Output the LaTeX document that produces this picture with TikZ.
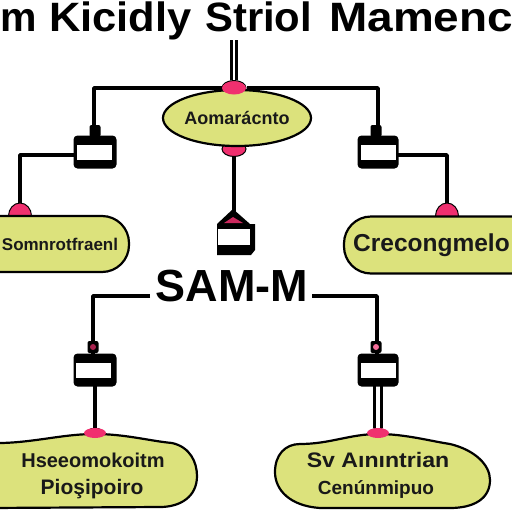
\documentclass[tikz,border=0pt]{standalone}
\usepackage{fontspec}
\setmainfont{Liberation Sans}
\usetikzlibrary{shapes.geometric}
\definecolor{lime}{HTML}{DCE27C}
\definecolor{rose}{HTML}{F0306F}
\tikzset{
  x=1pt,y=-1pt,
  wire/.style={line width=3.6pt,black,line join=round},
  twin/.style={line width=3pt,black,double=white,double distance=2pt},
  twinwide/.style={line width=3.4pt,black,double=white,double distance=4pt},
  outline/.style={line width=2.2pt,draw=black,fill=lime},
  dot/.style={ellipse,fill=rose,draw=black,line width=1pt,minimum width=24pt,minimum height=15pt,inner sep=0pt},
  dome/.style={dot,minimum width=23pt,minimum height=26pt},
  case/.style={fill=black,rounded corners=4pt,minimum width=43pt,minimum height=33pt,inner sep=0pt},
  win/.style={fill=white,minimum width=35pt,minimum height=15pt,inner sep=0pt},
  nub/.style={fill=black,rounded corners=2pt,minimum width=11pt,minimum height=12pt,inner sep=0pt},
  head/.style={font=\bfseries\fontsize{41}{41}\selectfont,inner sep=0pt,anchor=base west},
  lab/.style={font=\bfseries\fontsize{18}{18}\selectfont,inner sep=0pt,text=black!90},
  labm/.style={font=\bfseries\fontsize{20}{20}\selectfont,inner sep=0pt,text=black!90},
}
\begin{document}
\begin{tikzpicture}
\useasboundingbox (0,0) rectangle (512,512);
\clip (0,0) rectangle (512,512);
\fill[white] (0,0) rectangle (512,512);

% title
\node[head] (t1) at (0,31) {m};
\node[head,xscale=1.06] (t2) at (49,31) {Kicidly};
\node[head,xscale=1.02] (t3) at (205,31) {Striol};
\node[head,xscale=1.12] (t4) at (329,31) {Mamenc};

% anchors
\coordinate (stem) at (234,40);
\coordinate (busL) at (94,88);
\coordinate (busR) at (378,88);
\coordinate (elbowL) at (20,155);
\coordinate (elbowR) at (447,155);
\coordinate (lowL) at (93,296);
\coordinate (lowR) at (377,296);

% pink joints (drawn first so shapes cover their lower or upper part)
\node[dot] (pT) at (234,88) {};
\node[dot] (pB) at (234,149) {};
\node[dome] (pL) at (20,216) {};
\node[dome] (pR) at (447,216) {};
\node[dome] (pBL) at (95,441) {};
\node[dome] (pBR) at (378,441) {};

% wires
\draw[twin] (stem) -- (pT.north);
\draw[wire] (pT.west) -- (busL) -- (94,135);
\draw[wire] (pT.east) -- (busR) -- (378,135);
\draw[wire] (pB.south) -- (234,212);
\draw[wire] (80,155) -- (elbowL) -- (pL.north);
\draw[wire] (395,155) -- (elbowR) -- (pR.north);
\draw[wire] (150,296) -- (lowL) -- (93,355);
\draw[wire] (312,296) -- (lowR) -- (377,355);
\draw[wire] (95,386) -- (pBL.north);
\draw[twinwide] (378,386) -- (pBR.north);

% top ellipse
\node[ellipse,outline,minimum width=148pt,minimum height=56pt,inner sep=0pt] (main) at (237,118) {};
\node[lab] at (main) {Aomarácnto};
\fill[rose] (234,88) ellipse (12 and 6.5);

% side pills
\node[outline,rounded corners=27pt,minimum width=176pt,minimum height=56pt,inner sep=0pt] (left) at (41,244) {};
\node[labm,font=\bfseries\fontsize{17}{17}\selectfont] at (60,244) {Somnrotfraenl};
\node[outline,rounded corners=27pt,minimum width=200pt,minimum height=57pt,inner sep=0pt] (right) at (444,245) {};
\node[labm,font=\bfseries\fontsize{24.5}{24.5}\selectfont,anchor=west] at (353,245) {Crecongmelo};

% bottom pills
\draw[outline] (-10,443) .. controls (30,444) and (60,434) .. (95,434)
  .. controls (125,434) and (150,441) .. (172,443)
  .. controls (190,447) and (197,462) .. (197,476)
  .. controls (197,497) and (180,507) .. (160,507) -- (-10,508) -- cycle;
\draw[outline] (300,444) .. controls (330,444) and (350,434) .. (378,434)
  .. controls (405,434) and (430,441) .. (450,444)
  .. controls (475,450) and (490,465) .. (490,480)
  .. controls (490,498) and (475,508) .. (450,508)
  -- (320,508) .. controls (290,506) and (275,490) .. (275,472)
  .. controls (275,455) and (285,444) .. (300,444) -- cycle;
\fill[rose] (95,433) ellipse (11 and 5);
\fill[rose] (378,433) ellipse (11 and 5);
\node[labm] (b1) at (93,460) {Hseeomokoitm};
\node[labm,font=\bfseries\fontsize{21}{21}\selectfont] (b2) at (92,489) {Pioşipoiro};
\node[labm,font=\bfseries\fontsize{21}{21}\selectfont,xscale=1.1] (b3) at (378,460) {Sv Aınıntrian};
\node[labm,font=\bfseries\fontsize{19}{19}\selectfont] (b4) at (376,489) {Cenúnmipuo};

% connector boxes
\node[nub] (n1) at (95,131) {};
\node[case] (c1) at (95,152) {};
\node[win] at (94,152) {};
\node[nub] (n2) at (376,131) {};
\node[case,minimum width=41pt] (c2) at (378,152) {};
\node[win] at (378,152) {};
\node[nub] (n3) at (93,347) {};
\node[case] (c3) at (95,370) {};
\node[win] at (93,370) {};
\node[nub] (n4) at (376,347) {};
\node[case,minimum width=41pt] (c4) at (378,370) {};
\node[win] at (378,370) {};
\fill[rose!70!black] (93,347) circle (3);
\fill[rose!70] (376,347) circle (3);

% centre box
\fill[black] (233,209) -- (250,224) -- (255,224) -- (255,250) -- (251,255) -- (217,255) -- (217,224) -- cycle;
\fill[rose!85!black] (233,217) -- (243,223) -- (224,223) -- cycle;
\node[fill=white,minimum width=32pt,minimum height=16pt,inner sep=0pt] (c5) at (234,237) {};

% middle heading
\node[font=\bfseries\fontsize{45}{45}\selectfont,inner sep=0pt] (sam) at (232,286) {SAM-M};
\end{tikzpicture}
\end{document}
